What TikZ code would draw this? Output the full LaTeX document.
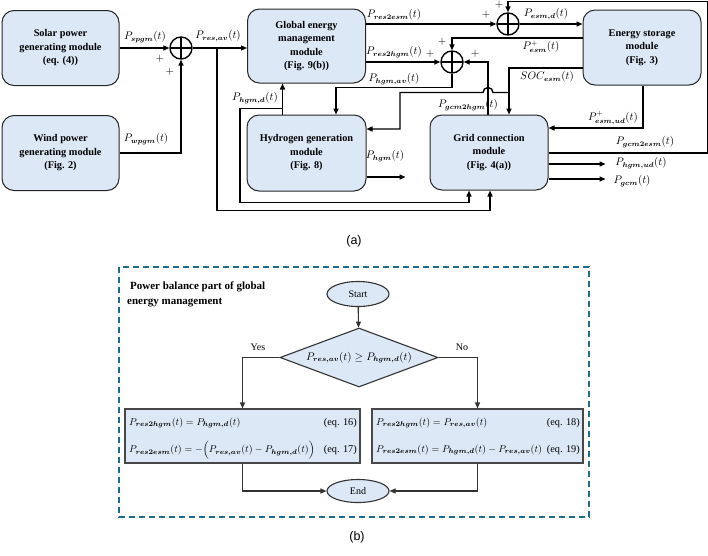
\documentclass[tikz,border=0pt]{standalone}
\usepackage{amsmath}
\usepackage{fontspec}
\setmainfont{Liberation Serif}
\newfontfamily\capfont{Liberation Sans}
\usetikzlibrary{arrows.meta,calc,shapes.geometric}
\definecolor{boxfill}{HTML}{DCE8F6}
\definecolor{dashblue}{HTML}{1F6B91}
\definecolor{flowline}{HTML}{333333}
\newcommand{\Pq}[1]{P_{\boldsymbol{#1}}(t)}
\begin{document}
\begin{tikzpicture}[x=1pt,y=-1pt,
 module/.style={draw=black!85, line width=1pt, fill=boxfill, rounded corners=12pt,
   minimum width=117pt, minimum height=75pt, align=center,
   font=\fontsize{10.3}{13.5}\selectfont\bfseries, inner sep=0pt},
 sumj/.style={circle, draw, line width=1.4pt, minimum size=22pt, inner sep=0pt,
   path picture={\draw[line width=1.4pt] (path picture bounding box.north) -- (path picture bounding box.south)
     (path picture bounding box.west) -- (path picture bounding box.east);}},
 sig/.style={line width=1.4pt},
 arr/.style={sig, -{Triangle[length=6pt,width=5pt]}},
 lab/.style={font=\fontsize{10.5}{12}\selectfont, inner sep=0pt},
 pm/.style={font=\fontsize{11}{12}\selectfont, inner sep=0pt},
 flowbox/.style={draw=flowline!90, line width=1.1pt, fill=boxfill, inner sep=0pt},
 term/.style={ellipse, draw=flowline, line width=1.1pt, fill=boxfill, minimum width=62pt,
   minimum height=25pt, inner sep=0pt, font=\fontsize{10}{11}\selectfont},
 decide/.style={diamond, aspect=2.68, draw=flowline, line width=1.1pt, fill=boxfill, minimum width=158pt,
   minimum height=59pt, inner sep=0pt, font=\fontsize{10.5}{12}\selectfont},
 farr/.style={line width=1.1pt, draw=flowline, -{Triangle[length=6pt,width=5pt]}},
 eqt/.style={font=\fontsize{10.3}{12}\selectfont, inner sep=0pt},
 flab/.style={font=\fontsize{10}{11}\selectfont, inner sep=0pt}
]
\useasboundingbox (0,0) rectangle (708,555);

% ---------- part (a) ----------
\node[module] (solar) at (60.5,48) {Solar power\\generating module\\(eq. (4))};
\node[module] (wind) at (60.5,153) {Wind power\\generating module\\(Fig. 2)};
\node[module, minimum width=118pt, minimum height=74pt] (glob) at (306.5,46) {Global energy\\management\\module\\(Fig. 9(b))};
\node[module, minimum width=119pt, minimum height=76pt] (hyd) at (306.5,153) {Hydrogen generation\\module\\(Fig. 8)};
\node[module, minimum width=118pt] (grid) at (489,152.5) {Grid connection\\module\\(Fig. 4(a))};
\node[module, minimum width=118pt] (ess) at (642,47.5) {Energy storage\\module\\(Fig. 3)};

\node[sumj] (s1) at (181,48) {};
\node[sumj] (s2) at (452,62) {};
\node[sumj] (s3) at (508,24) {};

% sources into s1
\draw[arr] (solar.east) -- (s1.west);
\draw[arr] (wind.east) -| (s1.south);
\draw[arr] (s1.east) -- (s1.east -| glob.west);
\coordinate (b1) at (217,48);
\draw[arr] (b1) |- ($(grid.south)+(1,20)$) -- ($(grid.south)+(1,0)$);

% global outputs
\draw[arr] (s3.west -| glob.east) -- (s3.west);
\draw[arr] (s2.west -| glob.east) -- (s2.west);
\draw[arr] (s2.south) |- ($(hyd.north)+(29.5,-27)$) -- ($(hyd.north)+(29.5,0)$);

% P_hgm,d
\draw[arr] ($(hyd.north)+(-24,0)$) -- ($(glob.south)+(-24,0)$);
\coordinate (hdj) at ($(hyd.north)+(-24,-6)$);
\draw[arr] (hdj) -- ++(-42.5,0) |- ($(grid.south)+(-20,12)$) -- ($(grid.south)+(-20,0)$);

% hydrogen output
\draw[arr] ($(hyd.east)+(0,24)$) -- ++(39,0);

% SOC
\draw[arr] ($(ess.west)+(0,20.5)$) -| ($(grid.north)+(20,0)$);
\coordinate (socj) at ($(grid.north)+(20,-22)$);
\draw[arr] (socj) -- ($(grid.north)+(4,-22)$) arc[start angle=0,end angle=-180,radius=5]
   -- ($(grid.north)+(-89,-22)$) |- ($(hyd.east)+(0,-24)$);

% P_gcm2hgm
\draw[arr] ($(grid.north)+(-1,0)$) |- (s2.east);
% P_esm^+
\draw[arr] ($(ess.west)+(0,-9.5)$) -| (s2.north);
% P_esm,d
\draw[arr] (s3.east) -- (s3.east -| ess.west);
% P_gcm2esm
\draw[arr] ($(grid.east)+(0,0.5)$) -- ++(159,0) |- ($(s3.north)+(0,-11)$) -- (s3.north);
% P_esm,ud^+
\draw[arr] ($(ess.south)+(1,0)$) |- ($(grid.east)+(0,-24.5)$);
% grid outputs
\draw[arr] ($(grid.east)+(0,11.5)$) -- ++(57,0);
\draw[arr] ($(grid.east)+(0,26.5)$) -- ++(57,0);

% labels
\node[lab] (l1) at (145,37) {$\Pq{spgm}$};
\node[lab] (l2) at (218,36) {$\Pq{res,av}$};
\node[lab] (l3) at (146,139) {$\Pq{wpgm}$};
\node[pm] (p1) at (160,59) {$+$};
\node[pm] (p2) at (170,72) {$+$};
\node[lab] (l4) at (394,15) {$\Pq{res2esm}$};
\node[lab] (l5) at (394,52) {$\Pq{res2hgm}$};
\node[pm] (p3) at (430,54) {$+$};
\node[pm] (p4) at (442,42) {$+$};
\node[pm] (p5) at (475,54) {$+$};
\node[lab] (l6) at (394,79) {$\Pq{hgm,av}$};
\node[lab] (l7) at (255,98) {$\Pq{hgm,d}$};
\node[lab] (l8) at (468,105) {$\Pq{gcm2hgm}$};
\node[lab] (l9) at (546,14) {$\Pq{esm,d}$};
\node[pm] (p6) at (499,5) {$+$};
\node[pm] (p7) at (486,15) {$+$};
\node[lab] (l10) at (541,47) {$P^{+}_{\boldsymbol{esm}}(t)$};
\node[lab] (l11) at (547,77) {$SOC_{\boldsymbol{esm}}(t)$};
\node[lab] (l12) at (613,118) {$P^{+}_{\boldsymbol{esm,ud}}(t)$};
\node[lab] (l13) at (645,142) {$\Pq{gcm2esm}$};
\node[lab] (l14) at (641,163) {$\Pq{hgm,ud}$};
\node[lab] (l15) at (632,181) {$\Pq{gcm}$};
\node[lab] (l16) at (385,156) {$\Pq{hgm}$};
\node[font=\capfont\fontsize{12.5}{14}\selectfont, inner sep=0pt] (capa) at (354,241) {(a)};

% ---------- part (b) ----------
\draw[draw=dashblue, line width=1.5pt, dash pattern=on 6pt off 4pt] (119,267) rectangle (589,517);
\node[anchor=west, align=left, inner sep=0pt, font=\fontsize{11}{15}\selectfont\bfseries] (title) at (127,294.5)
  {\hspace{3pt}Power balance part of global\\energy management};
\node[term] (start) at (358,294) {Start};
\node[decide] (dec) at (359,357.5) {$\Pq{res,av}\geq \Pq{hgm,d}$};
\node[flowbox, minimum width=235pt, minimum height=54pt] (lbox) at (242.5,436) {};
\node[flowbox, minimum width=211pt, minimum height=54pt] (rbox) at (477.5,436) {};
\node[term, minimum height=23pt] (end) at (358,491) {End};

\draw[farr] (start) -- (dec);
\draw[farr] (dec.west) -| (lbox.north);
\draw[farr] (dec.east) -| (rbox.north);
\draw[farr] (lbox.south) |- (end.west);
\draw[farr] (rbox.south) |- (end.east);
\node[flab] (yes) at (258,347) {Yes};
\node[flab] (no) at (462,347) {No};

\node[eqt, anchor=west] (e16) at (129,423) {$\Pq{res2hgm} = \Pq{hgm,d}$};
\node[eqt, anchor=east] (n16) at (357,423) {(eq. 16)};
\node[eqt, anchor=west] (e17) at (129,450) {$\Pq{res2esm} = -\Big(\Pq{res,av} - \Pq{hgm,d}\Big)$};
\node[eqt, anchor=east] (n17) at (357,450) {(eq. 17)};
\node[eqt, anchor=west] (e18) at (376,423) {$\Pq{res2hgm} = \Pq{res,av}$};
\node[eqt, anchor=east] (n18) at (580,423) {(eq. 18)};
\node[eqt, anchor=west] (e19) at (376,450) {$\Pq{res2esm} = \Pq{hgm,d} - \Pq{res,av}$};
\node[eqt, anchor=east] (n19) at (580,450) {(eq. 19)};
\node[font=\capfont\fontsize{12.5}{14}\selectfont, inner sep=0pt] (capb) at (357,537) {(b)};
\end{tikzpicture}
\end{document}
